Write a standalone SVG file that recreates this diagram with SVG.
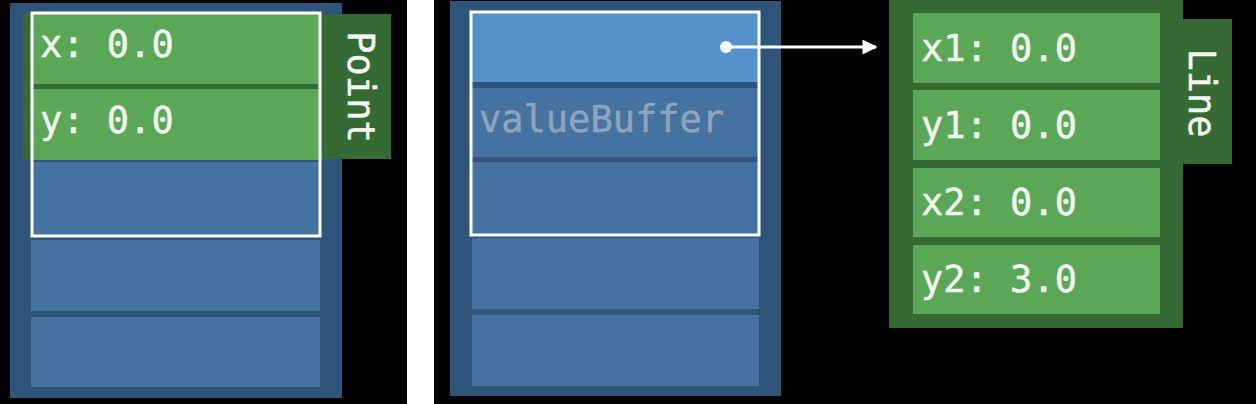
<svg xmlns="http://www.w3.org/2000/svg" width="1256" height="404" viewBox="0 0 1256 404">
  <style>
    .bg { fill: #000000; }
    .frame { fill: #2f5479; }
    .cell { fill: #4472a1; }
    .cellhi { fill: #5591cb; }
    .dkgreen { fill: #366a34; }
    .green { fill: #5aa857; }
    .sel { fill: none; stroke: #ffffff; stroke-width: 3; }
    .t { font-family: "DejaVu Sans Mono", "Liberation Mono", monospace; font-size: 37px; fill: #f1f7ee; stroke: #f1f7ee; stroke-width: 0.5; }
    .ghost { fill: #8fa4bc; stroke: #8fa4bc; }
    .conn { stroke: #ffffff; stroke-width: 3; fill: none; }
  </style>
  <defs>
    <marker id="arrow" viewBox="0 0 10 10" refX="9" refY="5" markerWidth="5.5" markerHeight="5" orient="auto" markerUnits="strokeWidth">
      <path d="M0,0 L10,5 L0,10 Z" fill="#ffffff"/>
    </marker>
  </defs>
  <rect x="0" y="0" width="1256" height="404" fill="#ffffff"/>
  <rect class="bg" x="0" y="0" width="407" height="404"/>
  <rect class="bg" x="434" y="0" width="822" height="404"/>

  <g id="buffer-left">
    <rect class="frame" x="10" y="3" width="332" height="395"/>
    <rect class="cell" x="31" y="162" width="289" height="73"/>
    <rect class="cell" x="31" y="240" width="289" height="71"/>
    <rect class="cell" x="31" y="317" width="289" height="70"/>
  </g>

  <g id="point">
    <rect class="dkgreen" x="23" y="13" width="299" height="147"/>
    <rect class="dkgreen" x="322" y="14" width="69" height="145"/>
    <rect class="green" x="31" y="13" width="290" height="71"/>
    <rect class="green" x="31" y="89" width="290" height="71"/>
    <text class="t" x="40" y="57">x: 0.0</text>
    <text class="t" x="40" y="133">y: 0.0</text>
    <text class="t" text-anchor="middle" transform="translate(348,87) rotate(90)">Point</text>
  </g>

  <g id="selection-left">
    <rect class="sel" x="32" y="13" width="288" height="223"/>
  </g>

  <g id="buffer-middle">
    <rect class="frame" x="450" y="1" width="331" height="395"/>
    <rect class="cellhi" x="472" y="12" width="287" height="70"/>
    <rect class="cell" x="472" y="88" width="287" height="69"/>
    <rect class="cell" x="472" y="162" width="287" height="73"/>
    <rect class="cell" x="472" y="238" width="287" height="71"/>
    <rect class="cell" x="472" y="315" width="287" height="71"/>
    <text class="t ghost" x="479" y="132">valueBuffer</text>
    <rect class="sel" x="471" y="12" width="288" height="223"/>
  </g>

  <g id="line">
    <rect class="dkgreen" x="889" y="0" width="294" height="328"/>
    <rect class="dkgreen" x="1183" y="19" width="49" height="145"/>
    <rect class="green" x="913" y="13" width="247" height="70"/>
    <rect class="green" x="913" y="90" width="247" height="70"/>
    <rect class="green" x="913" y="168" width="247" height="69"/>
    <rect class="green" x="913" y="245" width="247" height="69"/>
    <text class="t" x="921" y="61">x1: 0.0</text>
    <text class="t" x="921" y="138">y1: 0.0</text>
    <text class="t" x="921" y="215">x2: 0.0</text>
    <text class="t" x="921" y="292">y2: 3.0</text>
    <text class="t" text-anchor="middle" transform="translate(1189,93) rotate(90)">Line</text>
  </g>

  <g id="connectors">
    <circle cx="726" cy="47" r="6" fill="#ffffff"/>
    <line class="conn" x1="726" y1="47" x2="876" y2="47" marker-end="url(#arrow)"/>
  </g>
</svg>
